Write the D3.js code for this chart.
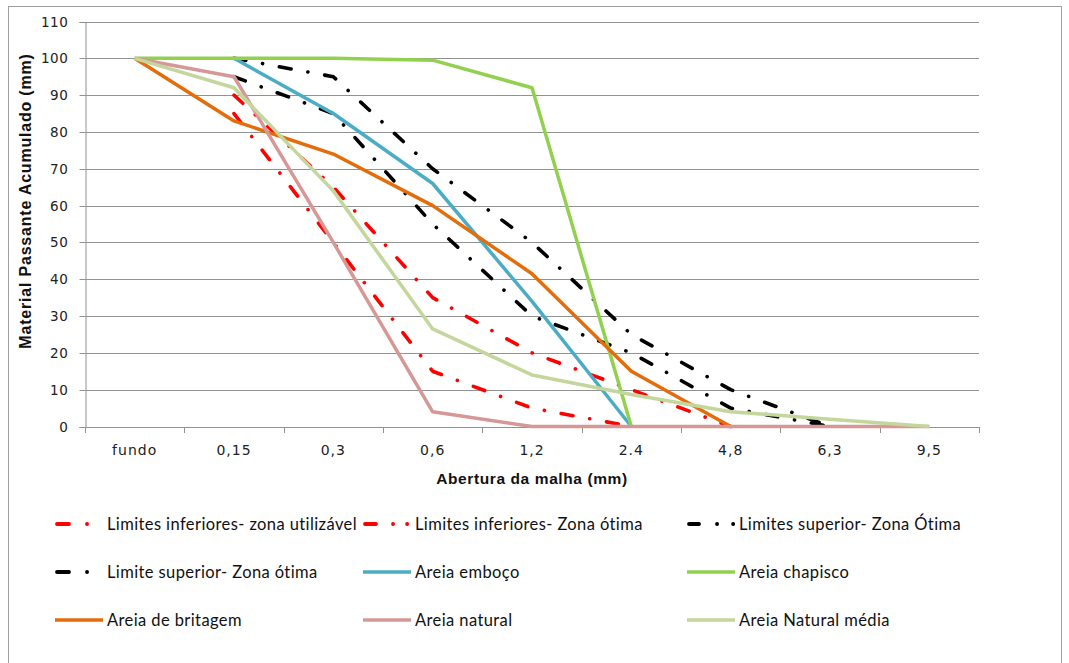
<!DOCTYPE html>
<html><head><meta charset="utf-8">
<script src="https://cdn.jsdelivr.net/npm/d3@7/dist/d3.min.js"></script>
<style>body{margin:0;background:#fff}svg{display:block}</style>
</head><body><svg id="c" width="1069" height="663"></svg>
<script>
const categories = ["fundo","0,15","0,3","0,6","1,2","2.4","4,8","6,3","9,5"];
const yTicks = [0,10,20,30,40,50,60,70,80,90,100,110];
const seriesNames = ["Limites inferiores- zona utilizável","Limites inferiores- Zona ótima","Limites superior- Zona Ótima","Limite superior- Zona ótima","Areia emboço","Areia chapisco","Areia de britagem","Areia natural","Areia Natural média"];
const limInfUtil   = [null, 85, 50, 15, 5, 0, null, null, null];
const limInfOtima  = [null, 90, 65, 35, 20, 10, 0, null, null];
const limSupOtima1 = [null, 100, 95, 70, 50, 25, 10, 0, null];
const limSupOtima2 = [null, 95, 85, 55, 30, 20, 5, 0, null];
const areiaEmboco  = [null, 100, 85, 66, 34, 0, null, null, null];
const areiaChapisco= [100, 100, 100, 99.5, 92, 0, null, null, null];
const areiaBritagem= [100, 83, 74, 60, 41.5, 15, 0, null, null];
const areiaNatural = [100, 95, 50, 4, 0, 0, 0, 0, 0];
const areiaNatMedia= [100, 92, 64, 26.5, 14, 8.7, 4, 2, 0];
const seriesValues = [limInfUtil, limInfOtima, limSupOtima1, limSupOtima2, areiaEmboco, areiaChapisco, areiaBritagem, areiaNatural, areiaNatMedia];

const colors = ["#FF0000","#FF0000","#000000","#000000","#4BACC6","#92D050","#E46C0A","#D69896","#C3D69B"];
const dashed = [true,true,true,true,false,false,false,false,false];
const legendDash = ["12,18,0.1,100","11,17,0.1,14,0.1,100","10,18,0.1,16,0.1,100","12,18,0.1,100"];

const svg = d3.select("#c");
svg.append("rect").attr("x",8.5).attr("y",6.5).attr("width",1053).attr("height",670)
  .attr("fill","none").attr("stroke","#a0a0a0").attr("stroke-width",1);

const x = d3.scaleBand().domain(categories).range([85, 979]);
const y = d3.scaleLinear().domain([0,110]).range([426.5, 21.5]);
const cx = c => x(c) + x.bandwidth()/2;

// grid
svg.append("g").selectAll("line").data(yTicks).join("line")
  .attr("x1",85).attr("x2",979).attr("y1",d=>Math.round(y(d))+0.5).attr("y2",d=>Math.round(y(d))+0.5)
  .attr("stroke","#929292").attr("stroke-width",1);

// y axis
const ya = svg.append("g").attr("transform","translate(85.5,0.5)")
  .call(d3.axisLeft(y).tickValues(yTicks).tickSize(6).tickPadding(11).tickFormat(d3.format("d")));
ya.select(".domain").attr("stroke","#929292");
ya.selectAll(".tick line").attr("stroke","#929292");
ya.selectAll(".tick").attr("transform",d=>`translate(0,${Math.round(y(d))})`);
ya.selectAll("text").attr("font-family","DejaVu Sans").attr("font-size",13.5).attr("letter-spacing",0.6).attr("fill","#222");

// x axis
const xa = svg.append("g").attr("transform",`translate(0,${Math.round(y(0))+0.5})`)
  .call(d3.axisBottom(x).tickSize(0).tickPadding(18));
xa.select(".domain").attr("stroke","#929292").attr("d",`M85,0H979`);
xa.selectAll("text").attr("font-family","DejaVu Sans").attr("font-size",14).attr("letter-spacing",1).attr("fill","#222");
svg.append("g").selectAll("line").data(categories.map(c=>x(c)).concat([x.range()[1]])).join("line")
  .attr("x1",d=>Math.round(d)+0.5).attr("x2",d=>Math.round(d)+0.5)
  .attr("y1",Math.round(y(0))).attr("y2",Math.round(y(0))+6).attr("stroke","#929292");

// titles
svg.append("text").attr("x",532).attr("y",484).attr("text-anchor","middle")
  .attr("font-family","Liberation Sans").attr("font-weight","bold").attr("font-size",15.5).attr("letter-spacing",0.6).attr("fill","#111")
  .text("Abertura da malha (mm)");
svg.append("text").attr("transform","translate(31,201) rotate(-90)").attr("text-anchor","middle")
  .attr("font-family","Liberation Sans").attr("font-weight","bold").attr("font-size",16).attr("letter-spacing",0.8).attr("fill","#111")
  .text("Material Passante Acumulado (mm)");

// lines
const line = d3.line().defined(d=>d.v!=null).x(d=>cx(d.c)).y(d=>y(d.v));
seriesValues.forEach((vals,i)=>{
  const pts = categories.map((c,j)=>({c, v: vals[j]}));
  svg.append("path").datum(pts).attr("d",line).attr("fill","none")
    .attr("stroke",colors[i]).attr("stroke-width",dashed[i]?3.6:3.5)
    .attr("stroke-linejoin","round")
    .attr("stroke-linecap",dashed[i]?"round":"butt")
    .attr("stroke-dasharray",dashed[i]?"12,17,0.1,17":null);
});

// legend
const colX = [55, 363, 687];
const rowY = [524, 572, 620];
seriesNames.forEach((name,i)=>{
  const col = i%3, row = Math.floor(i/3);
  const g = svg.append("g");
  const x0 = colX[col], yy = rowY[row];
  if(dashed[i]){
    g.append("line").attr("x1",x0+2).attr("x2",x0+48).attr("y1",yy).attr("y2",yy)
      .attr("stroke",colors[i]).attr("stroke-width",3.8).attr("stroke-linecap","round")
      .attr("stroke-dasharray",legendDash[i]);
  } else {
    g.append("line").attr("x1",x0).attr("x2",x0+48).attr("y1",yy).attr("y2",yy)
      .attr("stroke",colors[i]).attr("stroke-width",3.5);
  }
  g.append("text").attr("x",x0 + 52).attr("y",yy+5.5)
    .attr("font-family","Lato").attr("font-size",16.5).attr("letter-spacing",0.4).attr("fill","#111").text(name);
});
</script></body></html>
